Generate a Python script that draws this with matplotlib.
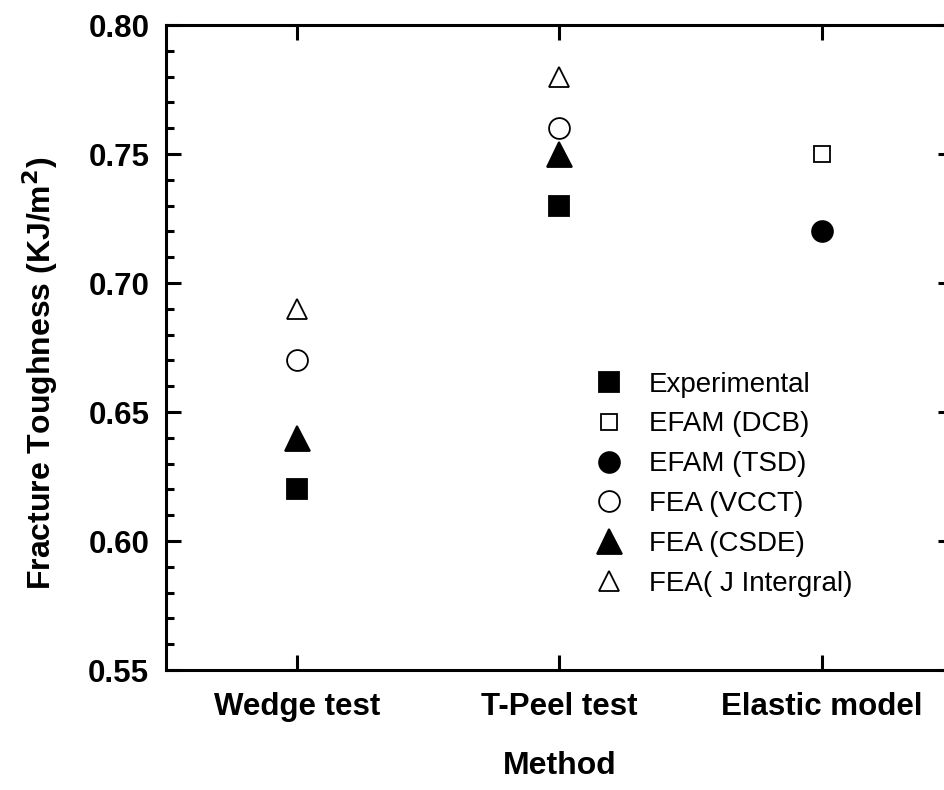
import matplotlib.pyplot as plt
from matplotlib.ticker import MultipleLocator

plt.rcParams['font.family'] = ['Liberation Sans', 'DejaVu Sans']

methods = ['Wedge test', 'T-Peel test', 'Elastic model']

# series: label -> values per method (None where no point)
experimental = [0.62, 0.73, None]
efam_dcb = [None, None, 0.75]
efam_tsd = [None, None, 0.72]
fea_vcct = [0.67, 0.76, None]
fea_csde = [0.64, 0.75, None]
fea_j = [0.69, 0.78, None]

series = [
    ('Experimental', experimental, 's', 'black', 14),
    ('EFAM (DCB)', efam_dcb, 's', 'none', 11),
    ('EFAM (TSD)', efam_tsd, 'o', 'black', 15),
    ('FEA (VCCT)', fea_vcct, 'o', 'none', 15),
    ('FEA (CSDE)', fea_csde, '^', 'black', 18),
    ('FEA( J Intergral)', fea_j, '^', 'none', 14),
]

fig = plt.figure(figsize=(9.45, 7.9), dpi=100)
ax = fig.add_axes([166 / 945, 1 - 670 / 790, 787 / 945, 645 / 790])

for label, vals, mk, fc, ms in series:
    xs = [i + 1 for i, v in enumerate(vals) if v is not None]
    ys = [v for v in vals if v is not None]
    ax.plot(xs, ys, linestyle='none', marker=mk, markersize=ms,
            markerfacecolor=fc, markeredgecolor='black', markeredgewidth=1.3,
            label=label)

ax.set_xlim(0.5, 3.5)
ax.set_ylim(0.55, 0.80)
ax.set_xticks([1, 2, 3])
ax.set_xticklabels(methods)
ax.yaxis.set_major_locator(MultipleLocator(0.05))
ax.yaxis.set_minor_locator(MultipleLocator(0.01))
ax.set_yticklabels([f'{v:.2f}' for v in ax.get_yticks()])

for sp in ax.spines.values():
    sp.set_linewidth(2.2)
ax.tick_params(which='both', direction='in', top=True, right=True, width=2.2)
ax.tick_params(which='major', length=11, labelsize=22.5)
ax.tick_params(axis='x', which='major', pad=16)
ax.tick_params(axis='y', which='major', pad=12)
ax.tick_params(which='minor', length=6)
for t in ax.get_xticklabels() + ax.get_yticklabels():
    t.set_fontweight('bold')

ax.set_xlabel('Method', fontsize=23, fontweight='bold')
ax.xaxis.set_label_coords(0.5, (670 - 766) / 645)
ax.xaxis.label.set_va('center')

fig.text(40 / 945, 1 - 373 / 790, 'Fracture Toughness (KJ/m$^\\mathbf{2}$)',
         fontsize=23, fontweight='bold', rotation=90, ha='center', va='center')

ax.legend(loc='upper left', bbox_to_anchor=(0.527, 0.48), frameon=False,
          fontsize=20, numpoints=1, handlelength=1.2, handletextpad=0.85,
          labelspacing=0.5, borderaxespad=0)

fig.savefig('out.png', dpi=100)
